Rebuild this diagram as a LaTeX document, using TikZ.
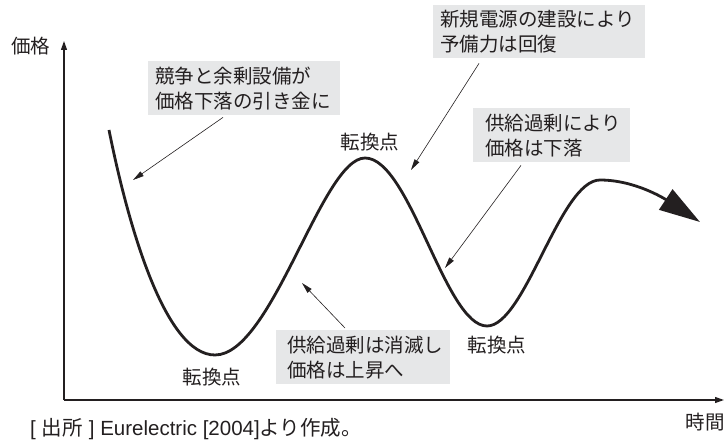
\documentclass[tikz,border=0pt]{standalone}
\usepackage{fontspec}
\setmainfont{Noto Sans CJK JP}
\newfontfamily\lat{Liberation Sans}
\usetikzlibrary{arrows.meta}
\definecolor{ink}{HTML}{231F20}
\definecolor{boxgray}{HTML}{E6E7E8}
\begin{document}
\begin{tikzpicture}[x=1pt,y=-1pt,
  every node/.style={text=ink, font=\fontsize{19.5}{25}\selectfont, inner sep=0pt},
  boxbg/.style={fill=boxgray, draw=none, anchor=north west},
  boxtxt/.style={anchor=west, align=left},
  axisline/.style={draw=ink, line width=1.2pt, -{Triangle[length=9pt,width=6pt]}},
  pointer/.style={draw=ink, line width=0.6pt, -{Triangle[length=11pt,width=5.5pt]}},
  trend/.style={draw=ink, line width=2.8pt, -{Triangle[length=41pt,width=24pt]}}]
\useasboundingbox (0,0) rectangle (724,441);

% axes
\coordinate (O) at (64,400);
\coordinate (ytop) at (64,41);
\coordinate (xend) at (724,400);
\draw[axisline] (O) -- (ytop);
\draw[axisline] (O) -- (xend);
\node (ylab) at (31,46) {価格};
\node (xlab) at (705,422) {時間};

% trend curve
\coordinate (c0) at (109,130);
\coordinate (m1) at (215,355);
\coordinate (p1) at (365,158);
\coordinate (m2) at (487,326);
\coordinate (p2) at (600,180);
\coordinate (c5) at (700,222);
\draw[trend] (c0) .. controls (128,225) and (165,355) .. (m1)
  .. controls (272,355) and (322,158) .. (p1)
  .. controls (410,158) and (445,326) .. (m2)
  .. controls (525,326) and (560,180) .. (p2)
  .. controls (635,180) and (665,199) .. (c5);

% turning point labels
\node (tp1) at (370,142) {転換点};
\node (tp2) at (212,377) {転換点};
\node (tp3) at (497,345) {転換点};

% boxes
\node[boxbg, minimum width=192pt, minimum height=54pt] (b1) at (148,61) {};
\node[boxtxt] (t1) at ([xshift=7pt]b1.west) {競争と余剰設備が\\価格下落の引き金に};
\node[boxbg, minimum width=212pt, minimum height=53pt] (b2) at (433,5) {};
\node[boxtxt] (t2) at ([xshift=7pt]b2.west) {新規電源の建設により\\予備力は回復};
\node[boxbg, minimum width=157pt, minimum height=54pt] (b3) at (473,108) {};
\node[boxtxt] (t3) at ([xshift=12pt]b3.west) {供給過剰により\\価格は下落};
\node[boxbg, minimum width=174pt, minimum height=54pt] (b4) at (276,330) {};
\node[boxtxt] (t4) at ([xshift=11pt]b4.west) {供給過剰は消滅し\\価格は上昇へ};

% pointers
\coordinate (a1e) at (133,180);
\coordinate (a2e) at (411,170);
\coordinate (a3e) at (445,268);
\coordinate (a4e) at (302,283);
\draw[pointer] ([shift={(75,2)}]b1.south west) -- (a1e);
\draw[pointer] ([shift={(46,5)}]b2.south west) -- (a2e);
\draw[pointer] ([shift={(48,3)}]b3.south west) -- (a3e);
\draw[pointer] ([shift={(69,-2)}]b4.north west) -- (a4e);

% source
\node[anchor=west, font=\fontsize{20.5}{22}\selectfont] (src) at (30,429) {{\lat[}\hspace{6pt}出所\hspace{6pt}{\lat]\ Eurelectric [2004]}より作成。};
\end{tikzpicture}
\end{document}
